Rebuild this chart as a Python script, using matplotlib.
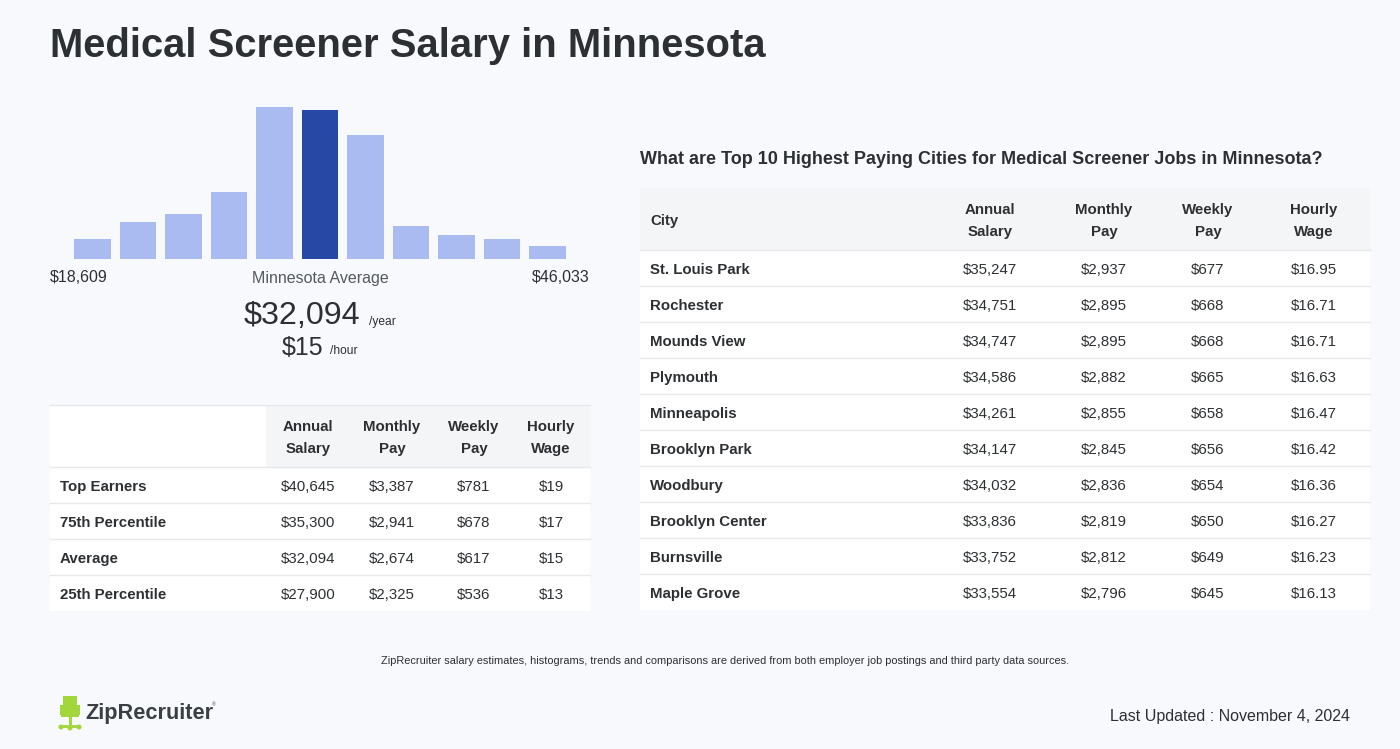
import matplotlib
matplotlib.use("Agg")
import matplotlib.pyplot as plt
from matplotlib.patches import Rectangle

plt.rcParams['font.family'] = ['Liberation Sans', 'DejaVu Sans']

# histogram data (relative bar heights, avg bin highlighted)
bin_heights = [20, 37, 45, 67, 152, 149, 124, 33, 24, 20, 13]
avg_bin = 5
range_low = "$18,609"
range_high = "$46,033"
avg_year = "$32,094"
avg_hour = "$15"

# left table
pct_cols = ["Annual\nSalary", "Monthly\nPay", "Weekly\nPay", "Hourly\nWage"]
pct_rows = ["Top Earners", "75th Percentile", "Average", "25th Percentile"]
pct_annual = ["$40,645", "$35,300", "$32,094", "$27,900"]
pct_monthly = ["$3,387", "$2,941", "$2,674", "$2,325"]
pct_weekly = ["$781", "$678", "$617", "$536"]
pct_hourly = ["$19", "$17", "$15", "$13"]

# right table
cities = ["St. Louis Park", "Rochester", "Mounds View", "Plymouth", "Minneapolis",
          "Brooklyn Park", "Woodbury", "Brooklyn Center", "Burnsville", "Maple Grove"]
city_annual = ["$35,247", "$34,751", "$34,747", "$34,586", "$34,261",
               "$34,147", "$34,032", "$33,836", "$33,752", "$33,554"]
city_monthly = ["$2,937", "$2,895", "$2,895", "$2,882", "$2,855",
                "$2,845", "$2,836", "$2,819", "$2,812", "$2,796"]
city_weekly = ["$677", "$668", "$668", "$665", "$658",
               "$656", "$654", "$650", "$649", "$645"]
city_hourly = ["$16.95", "$16.71", "$16.71", "$16.63", "$16.47",
               "$16.42", "$16.36", "$16.27", "$16.23", "$16.13"]

W, H = 1400, 749
BG = '#f8f9fc'
HEAD_BG = '#f4f5f7'
LINE = '#e6e8eb'
TXT = '#2d3033'

fig = plt.figure(figsize=(W / 100, H / 100), dpi=100, facecolor=BG)
ax = fig.add_axes([0, 0, 1, 1])
ax.set_xlim(0, W)
ax.set_ylim(H, 0)
ax.axis('off')

def pt(px):
    return px * 72 / 100

# title
ax.text(50, 46, "Medical Screener Salary in Minnesota", fontsize=pt(40), fontweight='bold',
        color=TXT, va='center', ha='left')

# histogram axes
hx0, hx1, hbase, htop = 50, 590, 259, 100
hax = fig.add_axes([hx0 / W, (H - hbase) / H, (hx1 - hx0) / W, (hbase - htop) / H])
hax.set_facecolor('none')
colors = ['#2749a5' if i == avg_bin else '#aabbf2' for i in range(len(bin_heights))]
hax.bar(range(len(bin_heights)), bin_heights, width=0.813, color=colors)
hax.set_xlim(-0.934, len(bin_heights) - 1 + 0.934)
hax.set_ylim(0, hbase - htop)
hax.axis('off')

ax.text(50, 278, range_low, fontsize=pt(16), color=TXT, ha='left', va='center')
ax.text(320, 278, "Minnesota Average", fontsize=pt(16), color='#555a5f', ha='center', va='center')
ax.text(590, 278, range_high, fontsize=pt(16), color=TXT, ha='right', va='center')

ax.text(360, 316, avg_year, fontsize=pt(32.3), color=TXT, ha='right', va='center')
ax.text(369, 322, "/year", fontsize=pt(12), color=TXT, ha='left', va='center')
ax.text(323, 348, avg_hour, fontsize=pt(25), color=TXT, ha='right', va='center')
ax.text(330, 351, "/hour", fontsize=pt(12), color=TXT, ha='left', va='center')

# left table
lx0, lx1 = 50, 590
l_head_top, l_head_bot = 405, 467
row_h = 36
l_cols = [308, 392, 474, 551]
ax.add_patch(Rectangle((lx0, l_head_top), 216, l_head_bot - l_head_top, color='white', lw=0))
ax.add_patch(Rectangle((266, l_head_top), lx1 - 266, l_head_bot - l_head_top, color=HEAD_BG, lw=0))
ax.plot([lx0, lx1], [l_head_top, l_head_top], color=LINE, lw=1)
for cx, label in zip(l_cols, pct_cols):
    ax.text(cx, 438, label, fontsize=pt(15), fontweight='bold', color=TXT,
            ha='center', va='center', linespacing=1.65)
for r, name in enumerate(pct_rows):
    y0 = l_head_bot + r * row_h
    ax.add_patch(Rectangle((lx0, y0), lx1 - lx0, row_h, color='white', lw=0))
    ax.plot([lx0, lx1], [y0, y0], color=LINE, lw=1)
    yc = y0 + row_h / 2 + 2
    ax.text(60, yc, name, fontsize=pt(15), fontweight='bold', color=TXT, ha='left', va='center')
    for cx, vals in zip(l_cols, [pct_annual, pct_monthly, pct_weekly, pct_hourly]):
        ax.text(cx, yc, vals[r], fontsize=pt(15), color=TXT, ha='center', va='center')

# right table
rx0, rx1 = 640, 1370
ax.text(rx0, 159, "What are Top 10 Highest Paying Cities for Medical Screener Jobs in Minnesota?",
        fontsize=pt(18), fontweight='bold', color=TXT, ha='left', va='center')
r_head_top, r_head_bot = 188, 250
r_cols = [990, 1104, 1208, 1314]
ax.add_patch(Rectangle((rx0, r_head_top), rx1 - rx0, r_head_bot - r_head_top, color=HEAD_BG, lw=0))
ax.text(650, 221, "City", fontsize=pt(15), fontweight='bold', color=TXT, ha='left', va='center')
for cx, label in zip(r_cols, pct_cols):
    ax.text(cx, 221, label, fontsize=pt(15), fontweight='bold', color=TXT,
            ha='center', va='center', linespacing=1.65)
for r, name in enumerate(cities):
    y0 = r_head_bot + r * row_h
    ax.add_patch(Rectangle((rx0, y0), rx1 - rx0, row_h, color='white', lw=0))
    ax.plot([rx0, rx1], [y0, y0], color=LINE, lw=1)
    yc = y0 + row_h / 2 + 2
    ax.text(650, yc, name, fontsize=pt(15), fontweight='bold', color=TXT, ha='left', va='center')
    for cx, vals in zip(r_cols, [city_annual, city_monthly, city_weekly, city_hourly]):
        ax.text(cx, yc, vals[r], fontsize=pt(15), color=TXT, ha='center', va='center')

# footer
ax.text(725, 661, "ZipRecruiter salary estimates, histograms, trends and comparisons are derived from "
        "both employer job postings and third party data sources.",
        fontsize=pt(11), color=TXT, ha='center', va='center')
ax.text(1350, 716, "Last Updated : November 4, 2024", fontsize=pt(16), color=TXT,
        ha='right', va='center')

# logo: simple chair icon
green = '#a3d63a'
ax.add_patch(Rectangle((63, 696), 14, 18, color=green, lw=0))
ax.add_patch(Rectangle((60, 705), 3, 10, color=green, lw=0))
ax.add_patch(Rectangle((77, 705), 3, 10, color=green, lw=0))
ax.add_patch(Rectangle((61, 714), 18, 3, color=green, lw=0))
ax.add_patch(Rectangle((68.5, 717), 3, 8, color=green, lw=0))
ax.plot([61, 79], [726, 726], color=green, lw=2)
ax.add_patch(plt.Circle((61, 727), 1.8, color=green))
ax.add_patch(plt.Circle((79, 727), 1.8, color=green))
ax.add_patch(plt.Circle((70, 728), 1.8, color=green))
ax.text(85, 714, "ZipRecruiter", fontsize=pt(21.8), fontweight='bold', color='#3a3f44',
        ha='left', va='center')
ax.text(212, 705, "®", fontsize=pt(5), color='#3a3f44', ha='left', va='center')

fig.savefig("out.png", dpi=100, facecolor=BG)
